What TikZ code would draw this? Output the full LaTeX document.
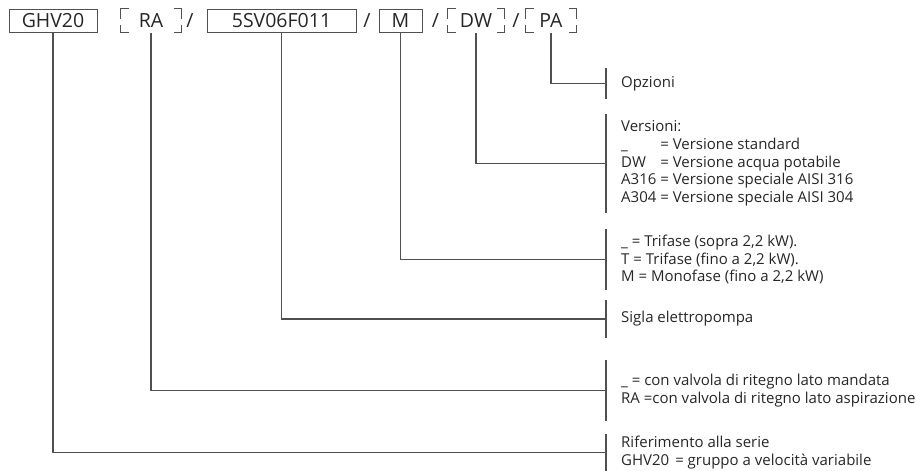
\documentclass[tikz,border=0pt]{standalone}
\usepackage{fontspec}
\setmainfont{Open Sans}
\usepackage{xcolor}
\usepackage{tikz}
\usetikzlibrary{positioning}

\definecolor{inkgray}{HTML}{262626}
\definecolor{linegray}{HTML}{505050}

\tikzset{
    codebox/.style={draw=linegray, line width=1pt, rectangle, minimum height=23pt, inner sep=0pt, text=inkgray, font=\fontsize{19.5}{21}\selectfont},
    optbox/.style={codebox, draw=none},
    slash/.style={inner sep=0pt, text=inkgray, font=\fontsize{19.5}{21}\selectfont},
    legend/.style={anchor=west, inner xsep=15pt, inner ysep=0pt, align=left, text=inkgray, font=\fontsize{15}{17.75}\selectfont},
    link/.style={draw=linegray, line width=1.1pt}
}

\begin{document}
\begin{tikzpicture}[x=1pt, y=-1pt]
    \useasboundingbox (0,0) rectangle (916,471);

    % Code line
    \node (ghv) [codebox, minimum width=88pt] at (53,20.5) {GHV20};
    \node (ra) [optbox, minimum width=60pt] at (151,20.5) {RA};
    \node (s1) [slash] at (190,20.5) {/};
    \node (sv) [codebox, minimum width=149pt] at (281.5,20.5) {5SV06F011};
    \node (s2) [slash] at (367,20.5) {/};
    \node (m) [codebox, minimum width=43pt] at (400.5,20.5) {M};
    \node (s3) [slash] at (435.5,20.5) {/};
    \node (dw) [optbox, minimum width=56pt] at (476,20.5) {DW};
    \node (s4) [slash] at (516,20.5) {/};
    \node (pa) [optbox, minimum width=50pt] at (551,20.5) {PA};

    % Optional brackets
    \foreach \n in {ra,dw,pa} {
        \draw[link] ([xshift=8pt]\n.north west) -- (\n.north west) -- ([yshift=-10pt]\n.north west);
        \draw[link] ([yshift=8pt]\n.south west) -- (\n.south west) -- ([xshift=8pt]\n.south west);
        \draw[link] ([xshift=-8pt]\n.north east) -- (\n.north east) -- ([yshift=-10pt]\n.north east);
        \draw[link] ([yshift=8pt]\n.south east) -- (\n.south east) -- ([xshift=-8pt]\n.south east);
    }

    % Legend
    \node (opz) [legend, minimum height=31pt] at (606,83.5) {Opzioni};
    \node (ver) [legend, minimum height=99pt] at (606,163.5) {%
        \begin{tabular}{@{}l@{ }l@{}}
        \multicolumn{2}{@{}l@{}}{Versioni:}\\
        \_ & = Versione standard\\
        DW & = Versione acqua potabile\\
        A316 & = Versione speciale AISI 316\\
        A304 & = Versione speciale AISI 304
        \end{tabular}};
    \node (fas) [legend, minimum height=61pt] at (606,259.5) {\_ = Trifase (sopra 2,2 kW).\\T = Trifase (fino a 2,2 kW).\\M = Monofase (fino a 2,2 kW)};
    \node (sig) [legend, minimum height=38pt] at (606,319) {Sigla elettropompa};
    \node (val) [legend, minimum height=60pt] at (606,390.5) {\_ = con valvola di ritegno lato mandata\\RA =con valvola di ritegno lato aspirazione};
    \node (rif) [legend, minimum height=37pt] at (606,452.5) {Riferimento alla serie\\GHV20\hspace{6pt}= gruppo a velocità variabile};

    \foreach \n in {opz,ver,fas,sig,val,rif}
        \draw[link] (\n.north west) -- (\n.south west);

    % Connectors
    \draw[link] (pa.south) |- (opz.west);
    \draw[link] (dw.south) |- (ver.west);
    \draw[link] (m.south) |- (fas.west);
    \draw[link] (sv.south) |- (sig.west);
    \draw[link] (ra.south) |- (val.west);
    \draw[link] (ghv.south) |- (rif.west);
\end{tikzpicture}
\end{document}
